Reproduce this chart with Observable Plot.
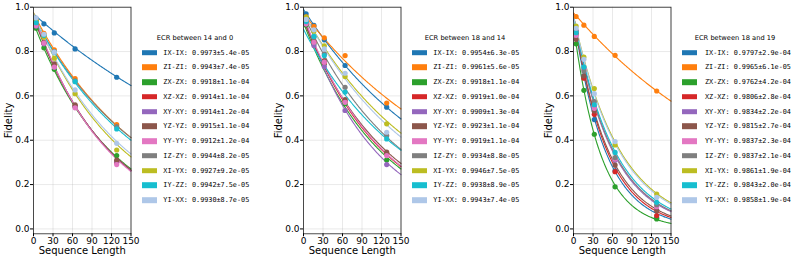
<!DOCTYPE html>
<html>
<head>
<meta charset="utf-8">
<script src="https://cdn.jsdelivr.net/npm/d3@7"></script>
<script src="https://cdn.jsdelivr.net/npm/@observablehq/plot@0.6"></script>
<style>
  html, body { margin: 0; padding: 0; background: #fff; }
  #root { position: relative; width: 793px; height: 259px; overflow: hidden; background: #fff; }
  .lgtitle { position: absolute; font-family: "DejaVu Sans", sans-serif; font-size: 6.7px; color: #000; white-space: nowrap; transform: translate(-50%, -50%); }
  .lgsw { position: absolute; width: 15px; height: 5.6px; transform: translateY(-50%); }
  .lgtx { position: absolute; font-family: "DejaVu Sans Mono", monospace; font-size: 6.8px; color: #000; white-space: nowrap; transform: translateY(-50%); line-height: 1; }
</style>
</head>
<body>
<div id="root"></div>
<script>
// ---------------- data ----------------
const seqLengths = [4, 16, 32, 64, 128];
const pairs = ["IX-IX","ZI-ZI","ZX-ZX","XZ-XZ","XY-XY","YZ-YZ","YY-YY","IZ-ZY","XI-YX","IY-ZZ","YI-XX"];
const colors = ["#1f77b4","#ff7f0e","#2ca02c","#d62728","#9467bd","#8c564b","#e377c2","#7f7f7f","#bcbd22","#17becf","#aec7e8"];
const titles = ["ECR between 14 and 0", "ECR between 18 and 14", "ECR between 18 and 19"];
const xTicks = [0, 30, 60, 90, 120, 150];
const yTicks = [0, 0.2, 0.4, 0.6, 0.8, 1.0];

// panel 1: ECR between 14 and 0
const rates1 = [0.9973, 0.9943, 0.9918, 0.9914, 0.9914, 0.9915, 0.9912, 0.9944, 0.9927, 0.9942, 0.9930];
const errs1  = ["5.4e-05","7.4e-05","1.1e-04","1.1e-04","1.2e-04","1.1e-04","1.2e-04","8.2e-05","9.2e-05","7.5e-05","8.7e-05"];
const amps1  = [0.97, 0.97, 0.93, 0.965, 0.965, 0.955, 0.975, 0.955, 0.975, 0.957, 0.97];
const fid1 = [
  [0.948, 0.925, 0.884, 0.812, 0.684],
  [0.940, 0.882, 0.808, 0.678, 0.471],
  [0.905, 0.817, 0.720, 0.552, 0.331],
  [0.920, 0.838, 0.735, 0.555, 0.300],
  [0.915, 0.835, 0.730, 0.552, 0.304],
  [0.920, 0.840, 0.744, 0.560, 0.310],
  [0.917, 0.838, 0.730, 0.546, 0.290],
  [0.935, 0.875, 0.800, 0.668, 0.462],
  [0.940, 0.865, 0.770, 0.610, 0.356],
  [0.930, 0.873, 0.797, 0.664, 0.451],
  [0.952, 0.878, 0.797, 0.627, 0.386]
];

// panel 2: ECR between 18 and 14
const rates2 = [0.9954, 0.9961, 0.9918, 0.9919, 0.9909, 0.9923, 0.9919, 0.9934, 0.9946, 0.9938, 0.9943];
const errs2  = ["6.3e-05","5.6e-05","1.1e-04","1.0e-04","1.3e-04","1.1e-04","1.1e-04","8.8e-05","7.5e-05","8.9e-05","7.4e-05"];
const amps2  = [0.99, 0.972, 0.93, 0.95, 0.965, 0.94, 0.96, 0.967, 0.973, 0.90, 0.976];
const fid2 = [
  [0.970, 0.918, 0.853, 0.737, 0.549],
  [0.957, 0.914, 0.862, 0.782, 0.568],
  [0.920, 0.835, 0.745, 0.565, 0.311],
  [0.925, 0.842, 0.750, 0.575, 0.340],
  [0.925, 0.827, 0.732, 0.534, 0.290],
  [0.930, 0.845, 0.759, 0.583, 0.346],
  [0.925, 0.842, 0.752, 0.571, 0.331],
  [0.940, 0.865, 0.790, 0.639, 0.421],
  [0.955, 0.892, 0.826, 0.687, 0.474],
  [0.935, 0.868, 0.782, 0.617, 0.406],
  [0.945, 0.898, 0.812, 0.702, 0.436]
];

// panel 3: ECR between 18 and 19
const rates3 = [0.9797, 0.9965, 0.9762, 0.9806, 0.9834, 0.9815, 0.9837, 0.9837, 0.9861, 0.9843, 0.9858];
const errs3  = ["2.9e-04","6.1e-05","4.2e-04","2.8e-04","2.2e-04","2.7e-04","2.3e-04","2.1e-04","1.9e-04","2.0e-04","1.9e-04"];
const amps3  = [0.96, 0.975, 0.92, 0.97, 0.96, 0.96, 0.96, 0.96, 0.96, 0.96, 0.96];
const fid3 = [
  [0.880, 0.690, 0.493, 0.262, 0.050],
  [0.958, 0.919, 0.868, 0.783, 0.622],
  [0.835, 0.625, 0.427, 0.190, 0.045],
  [0.880, 0.680, 0.517, 0.258, 0.060],
  [0.895, 0.725, 0.550, 0.310, 0.085],
  [0.855, 0.690, 0.532, 0.288, 0.082],
  [0.873, 0.720, 0.544, 0.315, 0.100],
  [0.890, 0.712, 0.574, 0.322, 0.109],
  [0.915, 0.775, 0.633, 0.379, 0.157],
  [0.885, 0.730, 0.560, 0.345, 0.120],
  [0.905, 0.765, 0.610, 0.394, 0.142]
];

// ---------------- layout ----------------
const panels = [
  {title: titles[0], rates: rates1, errs: errs1, amps: amps1, fid: fid1, axisLeft: 33.3, swX: 141.7, txX: 163.3, tiX: 195},
  {title: titles[1], rates: rates2, errs: errs2, amps: amps2, fid: fid2, axisLeft: 303.3, swX: 411.7, txX: 433.3, tiX: 465},
  {title: titles[2], rates: rates3, errs: errs3, amps: amps3, fid: fid3, axisLeft: 573.3, swX: 681.7, txX: 705, tiX: 735}
];
const ML = 34, FRAME_W = 97.5, MR = 5.5, H = 259, MT = 6.7, MB = 25.7;
const fitM = d3.range(0, 151, 1);
const color = Plot.scale({color: {domain: pairs, range: colors}});

const root = document.getElementById("root");

panels.forEach(p => {
  const pts = [];
  const fits = [];
  pairs.forEach((name, i) => {
    seqLengths.forEach((m, j) => pts.push({name, i, m, f: p.fid[i][j]}));
    fitM.forEach(m => fits.push({name, i, m, f: p.amps[i] * Math.pow(p.rates[i], m)}));
  });

  const svg = Plot.plot({
    width: ML + FRAME_W + MR,
    height: H,
    marginLeft: ML, marginRight: MR, marginTop: MT, marginBottom: MB,
    style: {fontFamily: "DejaVu Sans, sans-serif", fontSize: "9px", background: "transparent", overflow: "visible", color: "#000"},
    x: {domain: [0, 150]},
    y: {domain: [-0.022, 1.0]},
    color: {domain: pairs, range: colors},
    marks: [
      Plot.gridX(xTicks, {stroke: "#b0b0b0", strokeOpacity: 0.35, strokeWidth: 0.8}),
      Plot.gridY(yTicks, {stroke: "#b0b0b0", strokeOpacity: 0.35, strokeWidth: 0.8}),
      Plot.line(fits, {x: "m", y: "f", z: "name", stroke: "name", strokeWidth: 1.1}),
      Plot.dot(pts, {x: "m", y: "f", fill: "name", r: 2.6, stroke: "none"}),
      Plot.frame({stroke: "#222", strokeWidth: 0.8}),
      Plot.axisX({ticks: xTicks, tickSize: 3, tickPadding: 0.5, label: null, fontSize: 9}),
      Plot.axisY({ticks: yTicks, tickFormat: ".1f", tickSize: 3, tickPadding: 1, label: null, fontSize: 9}),
      Plot.text(["Sequence Length"], {frameAnchor: "bottom", dy: 16.7, fontSize: 10, textAnchor: "middle", lineAnchor: "middle", fill: "#000"}),
      Plot.text(["Fidelity"], {frameAnchor: "left", dx: -25, rotate: -90, fontSize: 10, textAnchor: "middle", lineAnchor: "middle", fill: "#000"})
    ]
  });
  svg.style.position = "absolute";
  svg.style.left = (p.axisLeft - ML) + "px";
  svg.style.top = "0px";
  root.appendChild(svg);

  const t = document.createElement("div");
  t.className = "lgtitle";
  t.textContent = p.title;
  t.style.left = p.tiX + "px";
  t.style.top = "38.3px";
  root.appendChild(t);

  pairs.forEach((name, i) => {
    const yc = 52.7 + i * 14.73;
    const sw = document.createElement("div");
    sw.className = "lgsw";
    sw.style.left = p.swX + "px";
    sw.style.top = yc + "px";
    sw.style.background = color.apply(name);
    root.appendChild(sw);
    const tx = document.createElement("div");
    tx.className = "lgtx";
    tx.style.left = p.txX + "px";
    tx.style.top = yc + "px";
    tx.textContent = `${name}: ${p.rates[i].toFixed(4)}±${p.errs[i]}`;
    root.appendChild(tx);
  });
});
</script>
</body>
</html>
